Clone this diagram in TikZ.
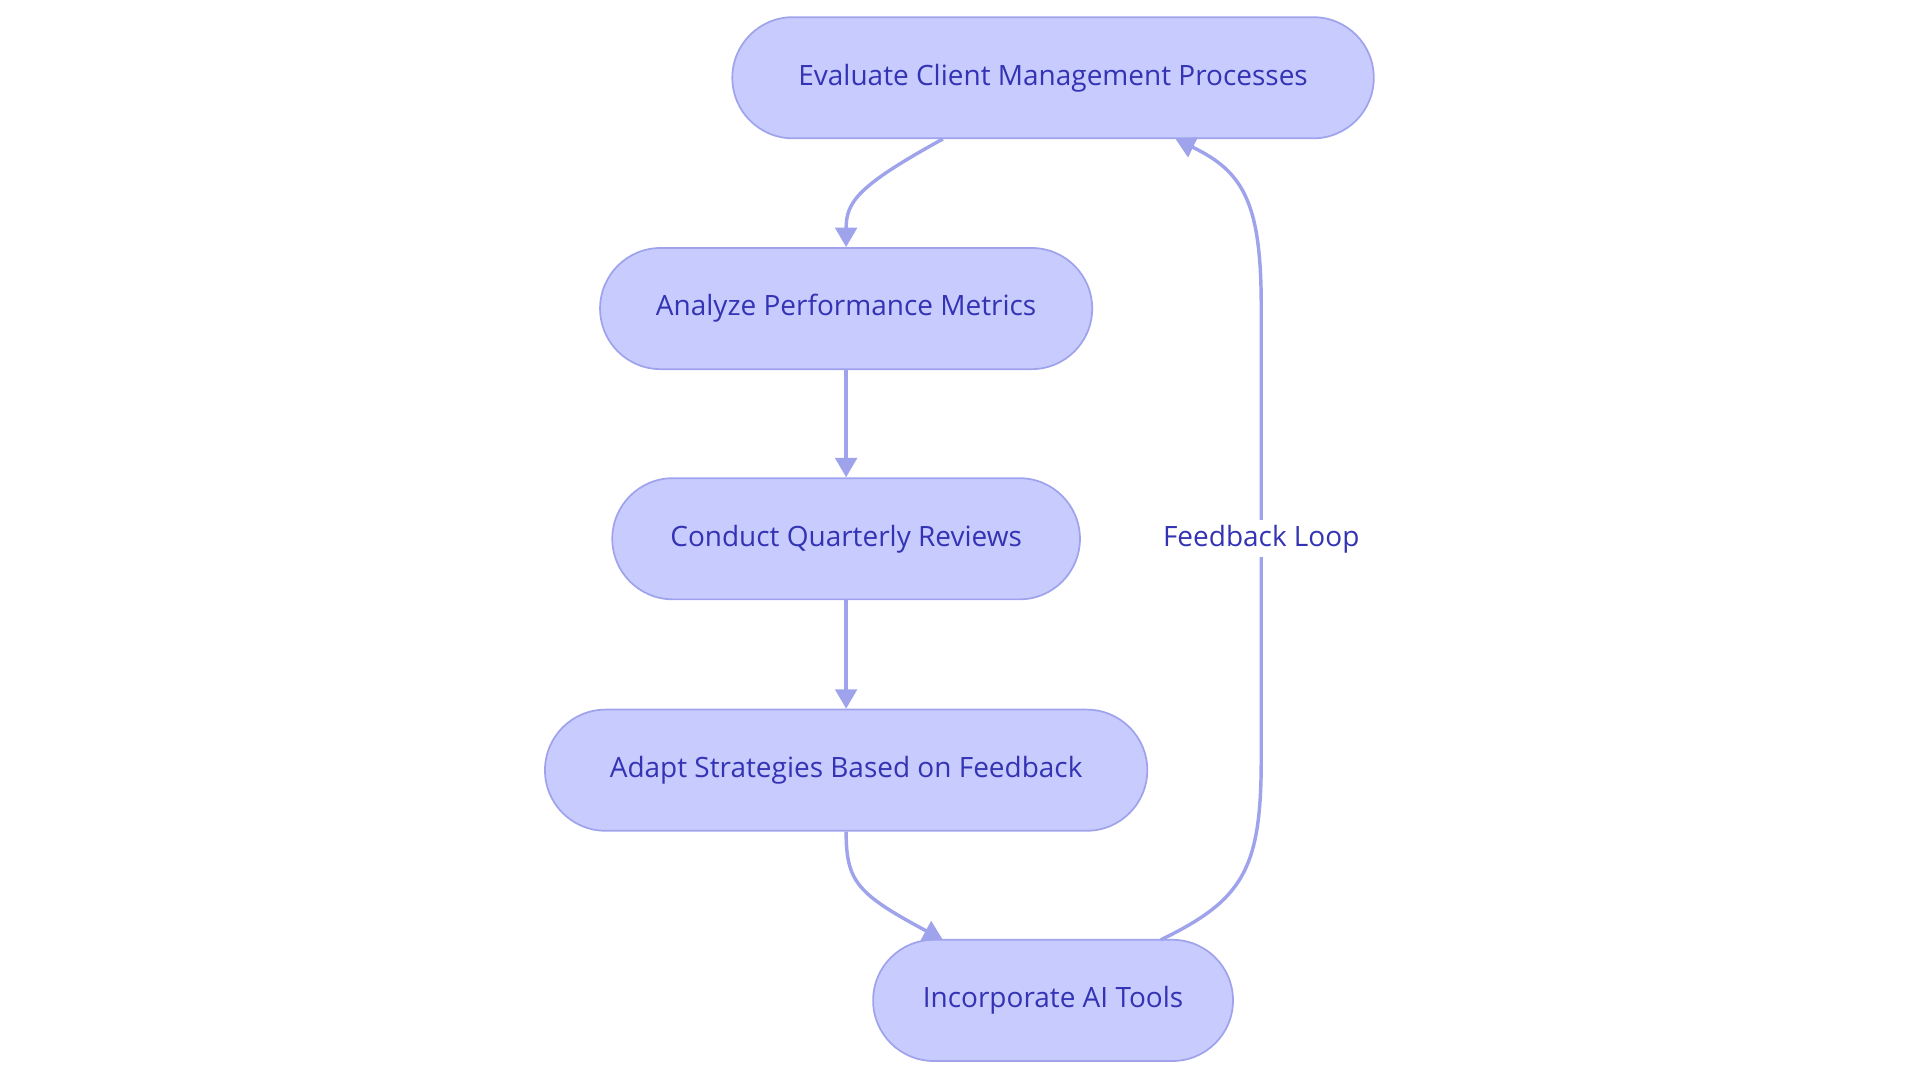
\documentclass[tikz,border=0pt]{standalone}
\usepackage{fontspec}
\setmainfont{Open Sans}
\usetikzlibrary{arrows.meta}
\definecolor{nfill}{HTML}{C8CBFE}
\definecolor{nline}{HTML}{9FA3EC}
\definecolor{ntext}{HTML}{3333B3}
\begin{document}
\begin{tikzpicture}[x=0.02cm,y=-0.02cm,
  box/.style={draw=nline,line width=0.8pt,fill=nfill,rounded corners=0.99cm,minimum height=1.98cm,text=ntext,font=\fontsize{13}{15}\selectfont,inner sep=0pt},
  arr/.style={draw=nline,line width=1.6pt,-{Triangle[length=9pt,width=10pt]}}]
\useasboundingbox (0,0) rectangle (1568,884);
\node[box,minimum width=10.48cm] (a) at (860,63.5) {Evaluate Client Management Processes};
\node[box,minimum width=8.04cm] (b) at (691,252) {Analyze Performance Metrics};
\node[box,minimum width=7.64cm] (c) at (691,440) {Conduct Quarterly Reviews};
\node[box,minimum width=9.84cm] (d) at (691,629) {Adapt Strategies Based on Feedback};
\node[box,minimum width=5.88cm] (e) at (860,817) {Incorporate AI Tools};
\coordinate (a1) at (770,113.5);
\coordinate (e1) at (770,767.5);
\coordinate (e2) at (948,767.5);
\coordinate (a2) at (960,113.5);
\draw[arr] (a1) .. controls (700,152) and (691,165) .. (b.north);
\draw[arr] (b) -- (c);
\draw[arr] (c) -- (d);
\draw[arr] (d.south) .. controls (691,720) and (700,730) .. (e1);
\draw[arr] (e2) .. controls (1015,735) and (1030,710) .. (1030,620) -- (1030,250) .. controls (1030,165) and (1015,140) .. (a2);
\node[fill=white,text=ntext,font=\fontsize{13}{15}\selectfont,inner sep=2pt] (fl) at (1030,440) {Feedback Loop};
\end{tikzpicture}
\end{document}
